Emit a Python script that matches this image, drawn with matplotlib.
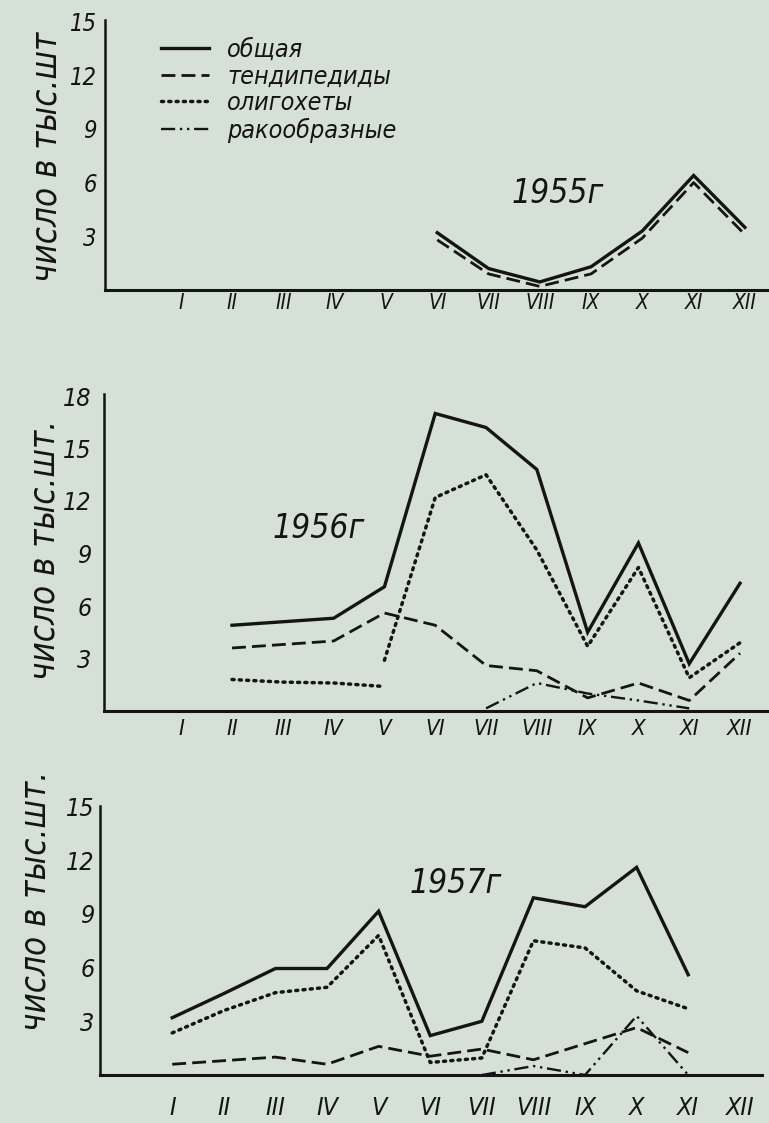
import matplotlib
matplotlib.use('Agg')
import matplotlib.pyplot as plt
from matplotlib.lines import Line2D

# ---------------- data ----------------
month_labels = ['I', 'II', 'III', 'IV', 'V', 'VI', 'VII', 'VIII', 'IX', 'X', 'XI', 'XII']
month_pos = list(range(1, 13))

series_names = ['общая', 'тендипедиды', 'олигохеты', 'ракообразные']
year_labels = ['1955г', '1956г', '1957г']

# 1955
m55 = [6, 7, 8, 9, 10, 11, 12]
total55 = [3.2, 1.2, 0.45, 1.3, 3.3, 6.4, 3.5]
tend55 = [2.8, 0.9, 0.2, 0.9, 2.9, 6.0, 3.1]

# 1956
m56 = [2, 3, 4, 5, 6, 7, 8, 9, 10, 11, 12]
total56 = [4.9, 5.1, 5.3, 7.1, 17.0, 16.2, 13.8, 4.5, 9.6, 2.7, 7.3]
tend56 = [3.6, 3.8, 4.0, 5.6, 4.9, 2.6, 2.3, 0.75, 1.6, 0.6, 3.3]
m56_olig_a = [2, 3, 4, 5]
olig56_a = [1.8, 1.65, 1.6, 1.4]
m56_olig_b = [5, 6, 7, 8, 9, 10, 11, 12]
olig56_b = [2.9, 12.2, 13.5, 9.2, 3.7, 8.2, 1.9, 3.9]
m56_crust = [7, 8, 9, 10, 11]
crust56 = [0.15, 1.6, 1.0, 0.6, 0.15]

# 1957
m57 = [1, 2, 3, 4, 5, 6, 7, 8, 9, 10, 11]
total57 = [3.2, 4.55, 5.95, 5.95, 9.15, 2.2, 3.0, 9.9, 9.4, 11.6, 5.6]
olig57 = [2.35, 3.6, 4.6, 4.9, 7.8, 0.7, 0.95, 7.5, 7.1, 4.7, 3.7]
tend57 = [0.6, 0.8, 1.0, 0.6, 1.6, 1.05, 1.45, 0.85, 1.75, 2.65, 1.25]
m57_crust = [7, 8, 9, 10, 11]
crust57 = [0.0, 0.5, 0.0, 3.3, 0.0]

yticks55 = [3, 6, 9, 12, 15]
yticks56 = [3, 6, 9, 12, 15, 18]
yticks57 = [3, 6, 9, 12, 15]

# ---------------- style ----------------
W, H = 769, 1123
BG = '#d5e0d6'
INK = '#141414'

plt.rcParams['font.family'] = ['DejaVu Sans']
plt.rcParams['font.style'] = 'italic'
plt.rcParams['font.stretch'] = 'condensed'

sty_total = dict(color=INK, lw=2.4, solid_joinstyle='miter', linestyle='-')
sty_tend = dict(color=INK, lw=2.0, linestyle=(0, (5, 2.2)))
sty_olig = dict(color=INK, lw=2.5, linestyle=(0, (0.6, 1.5)), dash_capstyle='round')
sty_crust = dict(color=INK, lw=1.7, linestyle=(0, (6, 2, 1, 2, 1, 2)))

fig = plt.figure(figsize=(W / 100, H / 100), dpi=100)
fig.patch.set_facecolor(BG)


def add_panel(left_px, bottom_px, right_px, xlim, ytop, scale, yticks,
              xpad, ypad, xfs, yfs):
    top_px = bottom_px - ytop * scale
    ax = fig.add_axes([left_px / W, 1 - bottom_px / H,
                       (right_px - left_px) / W, (bottom_px - top_px) / H])
    ax.set_facecolor('none')
    ax.set_xlim(*xlim)
    ax.set_ylim(0, ytop)
    for s in ['top', 'right']:
        ax.spines[s].set_visible(False)
    ax.spines['left'].set_linewidth(1.8)
    ax.spines['bottom'].set_linewidth(2.2)
    ax.spines['left'].set_color(INK)
    ax.spines['bottom'].set_color(INK)
    ax.set_xticks(month_pos)
    ax.set_xticklabels(month_labels, fontsize=xfs, style='italic', color=INK)
    ax.set_yticks(yticks)
    ax.set_yticklabels([str(v) for v in yticks], fontsize=yfs, style='italic', color=INK)
    ax.tick_params(axis='x', length=0, pad=xpad)
    ax.tick_params(axis='y', length=0, pad=ypad)
    return ax


def set_ylab(ax, text, fs, xc, yc):
    ax.set_ylabel(text, fontsize=fs, style='italic', color=INK)
    ax.yaxis.label.set_verticalalignment('center')
    ax.yaxis.set_label_coords(xc, yc)


# Panel 1955
ax1 = add_panel(105, 290, 769, (-0.48, 12.47), 15.1, 17.9, yticks55,
                xpad=2, ypad=6, xfs=15, yfs=17)
ax1.plot(m55, total55, **sty_total)
ax1.plot(m55, tend55, **sty_tend)
ax1.text(8.35, 5.4, year_labels[0], fontsize=24, style='italic', color=INK,
         ha='center', va='center')
set_ylab(ax1, 'число в тыс.шт', 25, -0.088, 0.493)

handles = [Line2D([], [], **sty_total), Line2D([], [], **sty_tend),
           Line2D([], [], **sty_olig), Line2D([], [], **sty_crust)]
leg = ax1.legend(handles, series_names, loc='upper left',
                 bbox_to_anchor=(161 / W, 1 - 38 / H), bbox_transform=fig.transFigure,
                 frameon=False, fontsize=18, handlelength=1.9, handletextpad=0.75,
                 labelspacing=0.1, borderpad=0, borderaxespad=0)
for t in leg.get_texts():
    t.set_style('italic')
    t.set_color(INK)

# Panel 1956
ax2 = add_panel(104, 711, 769, (-0.52, 12.57), 18.1, 17.5, yticks56,
                xpad=6, ypad=9, xfs=16, yfs=18)
ax2.plot(m56, total56, **sty_total)
ax2.plot(m56, tend56, **sty_tend)
ax2.plot(m56_olig_a, olig56_a, **sty_olig)
ax2.plot(m56_olig_b, olig56_b, **sty_olig)
ax2.plot(m56_crust, crust56, **sty_crust)
ax2.text(3.7, 10.4, year_labels[1], fontsize=24, style='italic', color=INK,
         ha='center', va='center')
set_ylab(ax2, 'число в тыс.шт.', 25, -0.090, 0.508)

# Panel 1957
ax3 = add_panel(100, 1075, 762, (-0.40, 12.43), 15.05, 17.9, yticks57,
                xpad=15, ypad=4, xfs=18, yfs=18)
ax3.plot(m57, total57, **sty_total)
ax3.plot(m57, olig57, **sty_olig)
ax3.plot(m57, tend57, **sty_tend)
ax3.plot(m57_crust, crust57, **sty_crust)
ax3.text(6.5, 10.7, year_labels[2], fontsize=24, style='italic', color=INK,
         ha='center', va='center')
set_ylab(ax3, 'число в тыс.шт.', 25, -0.098, 0.645)

fig.savefig('out.png', dpi=100, facecolor=BG)
